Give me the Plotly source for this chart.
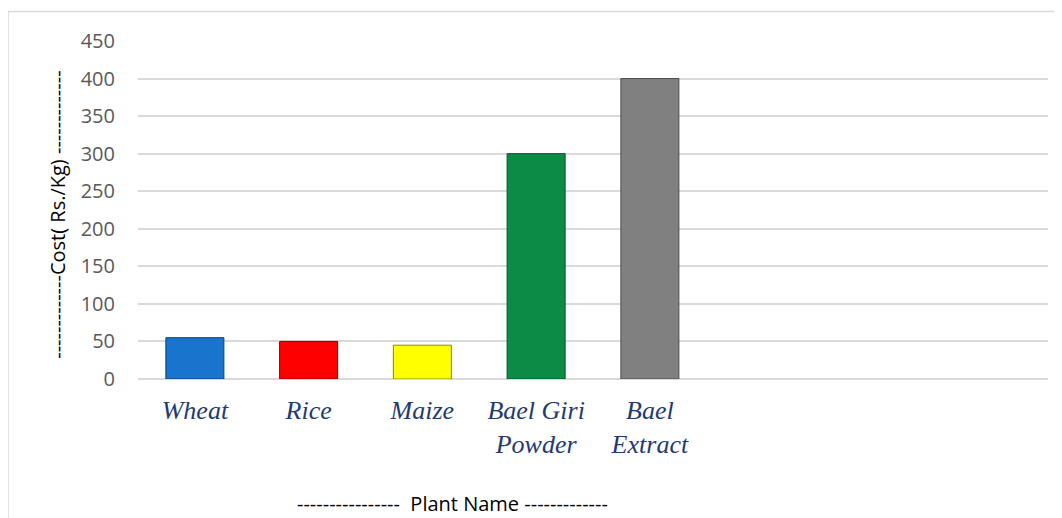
import plotly.graph_objects as go

categories = ["Wheat", "Rice", "Maize", "Bael Giri<br>Powder", "Bael<br>Extract", "", "", ""]
costs = [55, 50, 45, 300, 400]
bar_colors = ["#1874CD", "#FF0000", "#FFFF00", "#0A8C44", "#808080"]
edge_colors = ["#0B3F73", "#8B0000", "#8B8B00", "#05502A", "#4D4D4D"]
y_ticks = [0, 50, 100, 150, 200, 250, 300, 350, 400, 450]

x_idx = list(range(len(costs)))

fig = go.Figure()
fig.add_trace(go.Bar(
    x=x_idx, y=costs, width=0.51,
    marker=dict(color=bar_colors, line=dict(color=edge_colors, width=1)),
    showlegend=False,
))

fig.update_layout(
    width=1062, height=518,
    margin=dict(l=130, r=22, t=33, b=147),
    paper_bgcolor="white", plot_bgcolor="white",
    font=dict(family="Open Sans", size=20, color="#595959"),
    xaxis=dict(
        range=[-0.5, len(categories) - 0.5],
        tickmode="array", tickvals=list(range(len(categories))), ticktext=categories,
        tickfont=dict(family="Liberation Serif", size=26, color="#1F3A73", style="italic"),
        showgrid=False, zeroline=False, showline=False,
        ticks="outside", ticklen=8, tickcolor="rgba(0,0,0,0)",
    ),
    yaxis=dict(
        range=[0, 450], tickmode="array", tickvals=y_ticks,
        showgrid=True, gridcolor="#D9D9D9", gridwidth=1.5,
        zeroline=True, zerolinecolor="#D9D9D9", zerolinewidth=1.5,
        showline=False,
        ticks="outside", ticklen=18, tickcolor="rgba(0,0,0,0)",
        tickfont=dict(family="Open Sans", size=20, color="#595959"),
    ),
    shapes=[dict(type="rect", xref="paper", yref="paper",
                 x0=(8 - 138) / 910, x1=1.2, y0=-0.6, y1=(379 - 12) / 337.5,
                 line=dict(color="#D9D9D9", width=1.5), fillcolor="rgba(0,0,0,0)", layer="below")],
    annotations=[
        dict(text="-------------Cost( Rs./Kg) -------------", textangle=-90,
             xref="paper", yref="paper", x=(58 - 138) / 910, y=(379 - 215) / 337.5,
             xanchor="center", yanchor="middle",
             showarrow=False, font=dict(family="Open Sans", size=20, color="black")),
        dict(text="----------------  Plant Name -------------",
             xref="paper", yref="paper", x=(452 - 138) / 910, y=(379 - 503) / 337.5,
             xanchor="center", yanchor="middle",
             showarrow=False, font=dict(family="Open Sans", size=20, color="black")),
    ],
)

fig.write_html("out.html")
